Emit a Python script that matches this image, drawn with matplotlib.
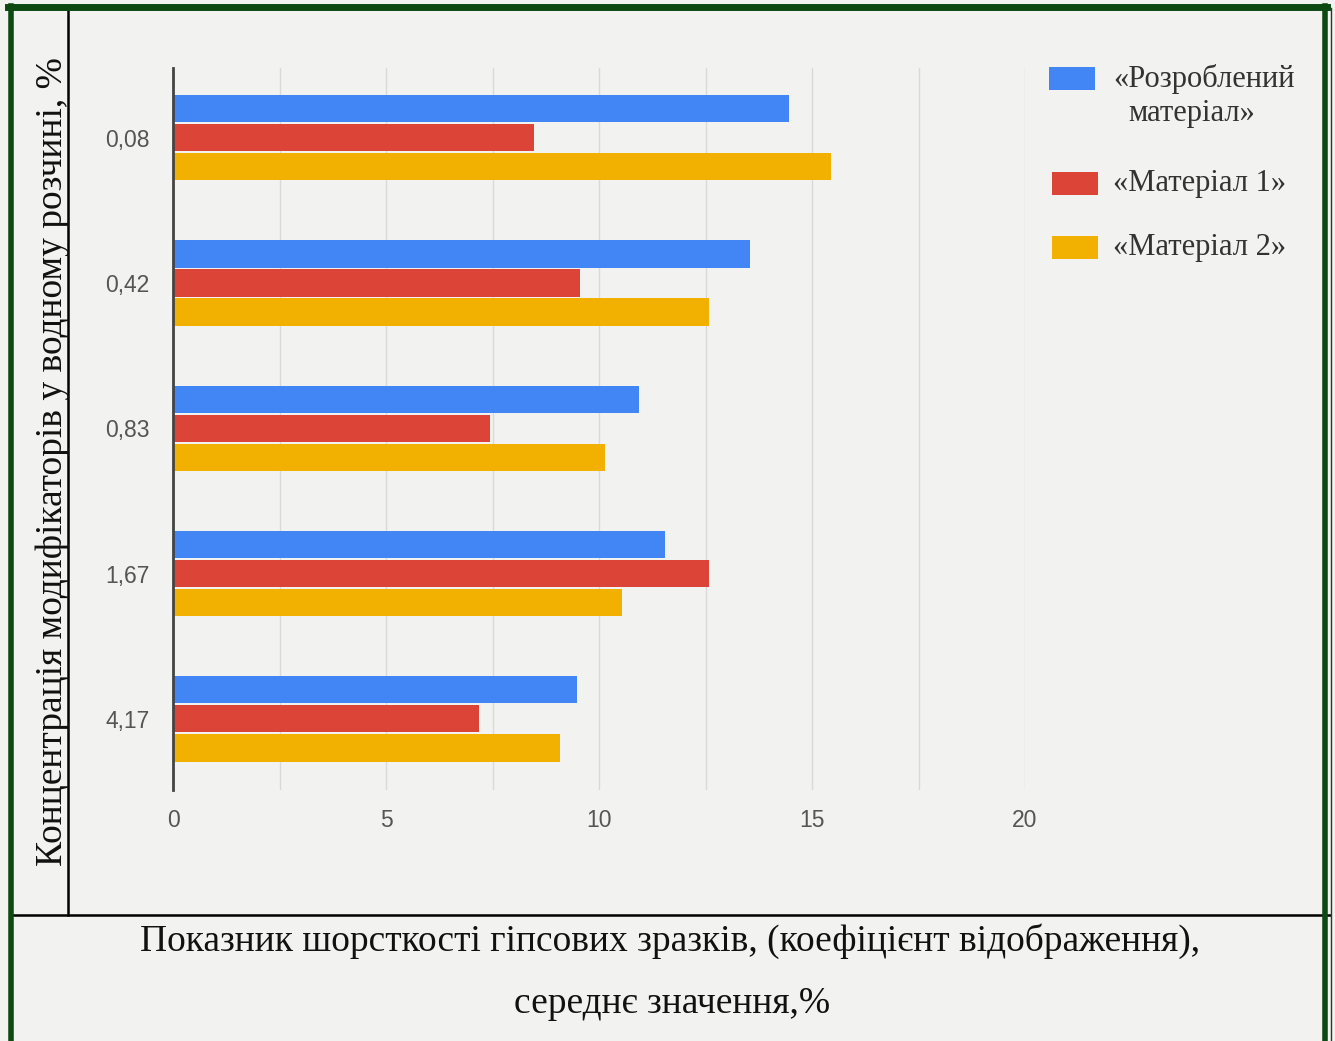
import matplotlib.pyplot as plt
import matplotlib.lines as mlines
import matplotlib.patches as mpatches
import numpy as np

# concentrations (y categories, top to bottom)
concentrations = ["0,08", "0,42", "0,83", "1,67", "4,17"]
series_names = ["«Розроблений", "«Матеріал 1»", "«Матеріал 2»"]
developed = [14.45, 13.55, 10.95, 11.55, 9.48]
material_1 = [8.47, 9.55, 7.45, 12.58, 7.18]
material_2 = [15.45, 12.58, 10.15, 10.55, 9.08]
x_ticks = [0, 5, 10, 15, 20]
x_minor = [2.5, 7.5, 12.5, 17.5]

colors = ["#4285f4", "#db4437", "#f2b100"]
bg = "#f2f2f0"

fig = plt.figure(figsize=(13.35, 10.41), dpi=100)
fig.patch.set_facecolor(bg)
W, H = 1335.0, 1041.0

ax = fig.add_axes([0.1296, 0.2411, 0.6382, 0.6936])
ax.set_facecolor(bg)

y = np.arange(len(concentrations))
h = 0.2
all_series = [developed, material_1, material_2]
for i, vals in enumerate(all_series):
    ax.barh(y + (i - 1) * h, vals, height=h * 0.94, color=colors[i], zorder=3)

ax.set_xlim(0, 20)
ax.set_ylim(4.49, -0.48)
ax.set_yticks(y)
ax.set_yticklabels(concentrations)
ax.set_xticks(x_ticks)
ax.set_xticks(x_minor, minor=True)
ax.set_xticklabels([str(t) for t in x_ticks])
ax.tick_params(axis="both", which="both", length=0, labelcolor="#555555",
               labelsize=16.5)
ax.tick_params(axis="x", pad=14)
ax.tick_params(axis="y", pad=17)
for lab in ax.get_xticklabels() + ax.get_yticklabels():
    lab.set_family("Liberation Sans")
ax.grid(axis="x", which="both", color="#d9d9d9", linewidth=1, zorder=0)
for s in ["top", "right", "bottom"]:
    ax.spines[s].set_visible(False)
ax.spines["left"].set_color("#444444")
ax.spines["left"].set_linewidth(2)
ax.spines["left"].set_zorder(4)

# legend (drawn by hand to keep the swatch level with the first text line)
leg_patches = [(1049, 67), (1052, 172), (1052, 236)]
leg_text_y = [79, 183, 248]
for i in range(3):
    px, py = leg_patches[i]
    fig.patches.append(mpatches.Rectangle((px / W, 1 - (py + 23) / H), 46 / W, 23 / H,
                                          transform=fig.transFigure,
                                          facecolor=colors[i], edgecolor="none"))
    fig.text(1113 / W, 1 - leg_text_y[i] / H, series_names[i], ha="left", va="center",
             family="Liberation Serif", fontsize=22, color="#333333")
fig.text(1128 / W, 1 - 113 / H, "матеріал»", ha="left", va="center",
         family="Liberation Serif", fontsize=22, color="#333333")

# frame lines of the figure
fig.add_artist(mlines.Line2D([68 / W, 68 / W], [1 - 10 / H, 1 - 915 / H],
                             color="black", linewidth=1.8))
fig.add_artist(mlines.Line2D([13 / W, 1330 / W], [1 - 915 / H, 1 - 915 / H],
                             color="black", linewidth=1.8))
green = "#0d4a12"
fig.add_artist(mlines.Line2D([10.5 / W, 10.5 / W], [0, 1 - 6 / H],
                             color=green, linewidth=4))
fig.add_artist(mlines.Line2D([8 / W, 1327 / W], [1 - 6.5 / H, 1 - 6.5 / H],
                             color=green, linewidth=5))
fig.add_artist(mlines.Line2D([1324.5 / W, 1324.5 / W], [0, 1 - 6 / H],
                             color=green, linewidth=4))
fig.add_artist(mlines.Line2D([1331 / W, 1331 / W], [0, 1 - 8 / H],
                             color="#333333", linewidth=1))

fig.text(53 / W, 1 - 462 / H, "Концентрація модифікаторів у водному розчині, %",
         rotation=90, ha="center", va="center", family="Liberation Serif",
         fontsize=27, color="#111111")
fig.text(670 / W, 1 - 941 / H,
         "Показник шорсткості гіпсових зразків, (коефіцієнт відображення),",
         ha="center", va="center", family="Liberation Serif", fontsize=27,
         color="#111111")
fig.text(672 / W, 1 - 1004 / H, "середнє значення,%",
         ha="center", va="center", family="Liberation Serif", fontsize=27,
         color="#111111")

fig.savefig("out.png", dpi=100, facecolor=bg)
